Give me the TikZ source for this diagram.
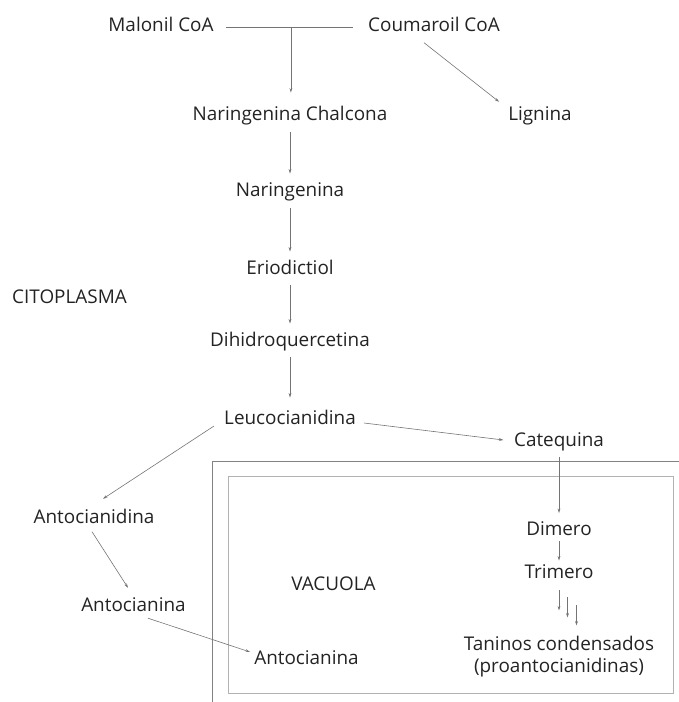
\documentclass[tikz,border=0pt]{standalone}
\usepackage{fontspec}
\setmainfont{Open Sans}
\usetikzlibrary{arrows.meta,calc}
\definecolor{testo}{HTML}{232323}
\definecolor{linea}{HTML}{747474}
\tikzset{
  base/.style={inner sep=0pt, text=testo, font=\fontsize{18.9}{22}\selectfont},
  mol/.style={base, text height=14pt, text depth=4.5pt},
  filo/.style={draw=linea, line width=0.6pt},
  freccia/.style={filo, -{Stealth[length=4.5pt,width=2.8pt]}, shorten <=7pt, shorten >=9pt}
}
\begin{document}
\begin{tikzpicture}[x=1pt,y=-1pt]
  \useasboundingbox (0,0) rectangle (678,702);
  % Disegna i compartimenti (citoplasma e vacuolo)
  \draw[linea!90, line width=0.7pt] (212,703) |- (679,461);
  \draw[linea!55, line width=1pt] (228,476) rectangle (673.5,693);
  \node[mol] (citoplasma) at (69.5,299) {CITOPLASMA};
  \node[mol] (vacuola) at (333.5,586) {VACUOLA};
  % Disegna le molecole
  \node[mol] (malonil) at (161,27) {Malonil CoA};
  \node[mol] (coumaroil) at (434,27) {Coumaroil CoA};
  \node[mol] (chalcona) at (290,116) {Naringenina Chalcona};
  \node[mol] (lignina) at (540,116) {Lignina};
  \node[mol] (naringenina) at (290,192) {Naringenina};
  \node[mol] (eriodictiol) at (290,270) {Eriodictiol};
  \node[mol] (dihidro) at (290,342) {Dihidroquercetina};
  \node[mol] (leuco) at (290,420) {Leucocianidina};
  \node[mol] (catequina) at (559,442) {Catequina};
  \node[mol] (antocianidina) at (94,519) {Antocianidina};
  \node[mol] (antocianina) at (133.5,606.5) {Antocianina};
  \node[mol] (antovac) at (306.5,660) {Antocianina};
  \node[mol] (dimero) at (559,530.5) {Dimero};
  \node[mol] (trimero) at (559,574) {Trimero};
  \node[base, align=center] (taninos) at (559,656.5) {Taninos condensados\\(proantocianidinas)};
  % Unione dei due precursori
  \draw[filo, shorten <=12pt, shorten >=15pt] (malonil.east) -- (coumaroil.west);
  \coordinate (incrocio) at ($(malonil.east)!0.5!(coumaroil.west)$);
  \draw[freccia, shorten <=0pt, shorten >=14pt] (incrocio) -- (incrocio |- chalcona.north);
  \draw[freccia, shorten <=0pt, shorten >=0pt] ($(coumaroil.south)+(-10,6.25)$) -- ($(lignina.north west)+(-9,-4.75)$);
  % Catena centrale
  \draw[freccia] (chalcona) -- (naringenina);
  \draw[freccia] (naringenina) -- (eriodictiol);
  \draw[freccia, shorten <=6pt] (eriodictiol) -- (dihidro);
  \draw[freccia, shorten <=6pt, shorten >=13pt] (dihidro) -- (leuco);
  % Rami dalla leucocianidina
  \draw[freccia, shorten <=0pt, shorten >=0pt] ($(leuco.east)+(8,3)$) -- ($(catequina.west)+(-10.5,-2)$);
  \draw[freccia, shorten <=0pt, shorten >=0pt] ($(leuco.west)+(-10,6)$) -- ($(antocianidina.north)+(9,-10.75)$);
  \draw[freccia, shorten <=0pt, shorten >=0pt] ($(antocianidina.south)+(-2,3.25)$) -- ($(antocianina.north)+(-5.5,-9.25)$);
  \draw[freccia, shorten <=0pt, shorten >=0pt] ($(antocianina.south)+(14.5,2.25)$) -- ($(antovac.west)+(-4,-8)$);
  % Polimerizzazione nel vacuolo
  \draw[freccia, shorten <=6pt, shorten >=8pt] (catequina) -- (dimero);
  \draw[freccia, shorten <=1.5pt, shorten >=4pt] (dimero) -- (trimero);
  \foreach \dx/\dy in {0/7, 8.5/14, 17.5/22}
    \draw[freccia, shorten <=0pt, shorten >=0pt] ($(trimero.south)+(\dx,\dy)$) -- ($(trimero.south)+(\dx,\dy+20)$);
\end{tikzpicture}
\end{document}
